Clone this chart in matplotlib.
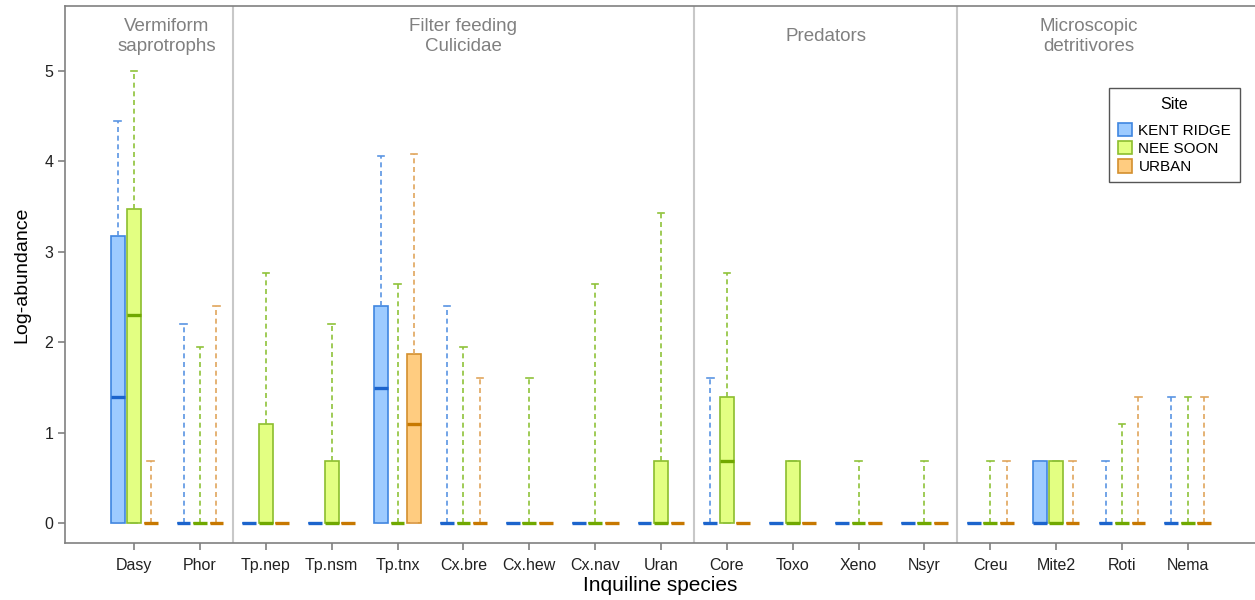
import numpy as np
import matplotlib
matplotlib.use("Agg")
import matplotlib.pyplot as plt
import matplotlib.patches as mpatches

plt.rcParams['font.family'] = ['Liberation Sans', 'DejaVu Sans']

species = ['Dasy', 'Phor', 'Tp.nep', 'Tp.nsm', 'Tp.tnx', 'Cx.bre', 'Cx.hew', 'Cx.nav', 'Uran',
           'Core', 'Toxo', 'Xeno', 'Nsyr', 'Creu', 'Mite2', 'Roti', 'Nema']

sites = ['KENT RIDGE', 'NEE SOON', 'URBAN']

# upper quartile, median, max for each site (lower quartile and min are 0 everywhere)
kent_q3 = [3.18, 0, 0, 0, 2.40, 0, 0, 0, 0, 0, 0, 0, 0, 0, 0.69, 0, 0]
kent_med = [1.39, 0, 0, 0, 1.50, 0, 0, 0, 0, 0, 0, 0, 0, 0, 0, 0, 0]
kent_max = [4.45, 2.20, 0, 0, 4.06, 2.40, 0, 0, 0, 1.61, 0, 0, 0, 0, 0.69, 0.69, 1.39]

nee_q3 = [3.47, 0, 1.10, 0.69, 0, 0, 0, 0, 0.69, 1.39, 0.69, 0, 0, 0, 0.69, 0, 0]
nee_med = [2.30, 0, 0, 0, 0, 0, 0, 0, 0, 0.69, 0, 0, 0, 0, 0, 0, 0]
nee_max = [5.00, 1.95, 2.77, 2.20, 2.64, 1.95, 1.61, 2.64, 3.43, 2.77, 0.69, 0.69, 0.69, 0.69, 0.69, 1.10, 1.39]

urban_q3 = [0, 0, 0, 0, 1.87, 0, 0, 0, 0, 0, 0, 0, 0, 0, 0, 0, 0]
urban_med = [0, 0, 0, 0, 1.10, 0, 0, 0, 0, 0, 0, 0, 0, 0, 0, 0, 0]
urban_max = [0.69, 2.40, 0, 0, 4.08, 1.61, 0, 0, 0, 0, 0, 0, 0, 0.69, 0.69, 1.39, 1.39]

groups = ['Vermiform\nsaprotrophs', 'Filter feeding\nCulicidae', 'Predators', 'Microscopic\ndetritivores']
group_start = [1, 3, 10, 14]
group_end = [2, 9, 13, 17]

# fill, edge, median, whisker
colours = [('#9dcbff', '#3f86e0', '#1c64cc', '#5a95e3'),
           ('#e3ff82', '#8cbd2e', '#70a800', '#8fc23a'),
           ('#ffcc80', '#d38f2e', '#c77800', '#e0a55c')]

site_q3 = [kent_q3, nee_q3, urban_q3]
site_med = [kent_med, nee_med, urban_med]
site_max = [kent_max, nee_max, urban_max]

fig = plt.figure(figsize=(12.55, 6), dpi=100)
ax = fig.add_axes([65/1255, 57/600, 1 - 65/1255, 537/600])

x = np.arange(1, len(species) + 1)
offsets = [-0.25, 0, 0.25]

for s in range(3):
	fill, edge, med, whisk = colours[s]
	stats = []
	for i in range(len(species)):
		stats.append(dict(q1=0, med=site_med[s][i], q3=site_q3[s][i],
		                  whislo=0, whishi=site_max[s][i], fliers=[]))
	ax.bxp(stats, positions=x + offsets[s], widths=0.21, patch_artist=True,
	       showfliers=False, capwidths=0.1,
	       boxprops=dict(facecolor=fill, edgecolor=edge, linewidth=1.2),
	       medianprops=dict(color=med, linewidth=2.4, solid_capstyle='butt'),
	       whiskerprops=dict(color=whisk, linewidth=1.2, linestyle=(0, (3, 2.2))),
	       capprops=dict(color=whisk, linewidth=1.2))

# group separators and labels
for k in range(len(groups)):
	if k > 0:
		ax.axvline(group_start[k] - 0.5, color='#c8c8c8', linewidth=1.5, zorder=0)
	ax.text((group_start[k] + group_end[k]) / 2, 5.385, groups[k], ha='center', va='center',
	        fontsize=13.5, color='#808080', linespacing=1.25)

ax.set_xlim(-0.05, 18.02)
ax.set_ylim(-0.22, 5.72)
ax.set_xticks(x)
ax.set_xticklabels(species, fontsize=11.5)
ax.set_yticks(range(6))
ax.set_yticklabels([str(v) for v in range(6)], fontsize=11.5)
ax.tick_params(axis='both', colors='#808080', length=5, width=1.2, labelcolor='#222222')
ax.tick_params(axis='x', pad=6)
for side in ['left', 'bottom', 'top']:
	ax.spines[side].set_color('#808080')
	ax.spines[side].set_linewidth(1.2)
ax.spines['right'].set_visible(False)

ax.set_xlabel('Inquiline species', fontsize=15, labelpad=2)
ax.set_ylabel('Log-abundance', fontsize=14, labelpad=10)

handles = [mpatches.Patch(facecolor=c[0], edgecolor=c[1], linewidth=1.2, label=n) for c, n in zip(colours, sites)]
leg = ax.legend(handles=handles, title='Site', loc='upper right', bbox_to_anchor=(0.987, 0.847),
                borderaxespad=0, fontsize=11, title_fontsize=11.5, fancybox=False, edgecolor='#555555',
                handlelength=0.95, handleheight=1.0, handletextpad=0.4, labelspacing=0.2,
                borderpad=0.55, framealpha=1)
leg.get_frame().set_linewidth(1.0)
leg._legend_box.sep = 8

plt.savefig('out.png', dpi=100)
